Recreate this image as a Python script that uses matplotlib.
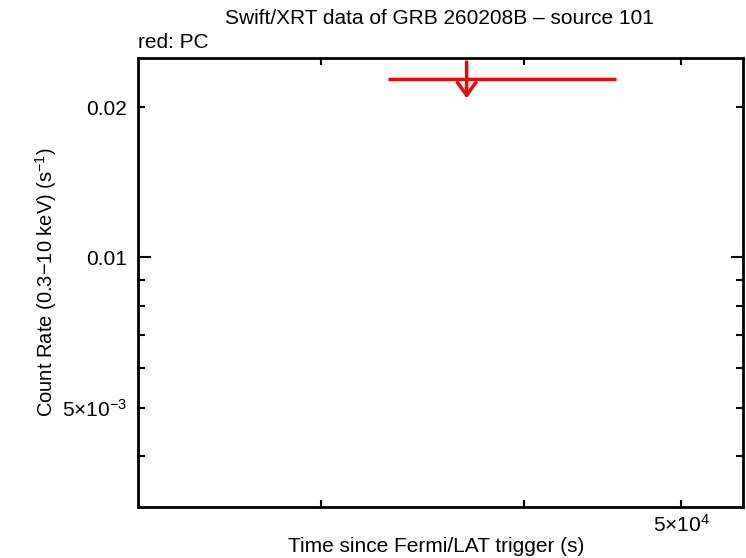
import matplotlib.pyplot as plt
from matplotlib.ticker import FixedLocator, FixedFormatter

plt.rcParams['font.family'] = ['Liberation Sans', 'DejaVu Sans']
plt.rcParams['mathtext.fontset'] = 'custom'
plt.rcParams['mathtext.rm'] = 'Liberation Sans'
plt.rcParams['mathtext.it'] = 'Liberation Sans'
plt.rcParams['mathtext.bf'] = 'Liberation Sans'

# PC mode upper limit (time since trigger in s, count rate in 1/s)
t_mid = [36890.0]
t_lo = [32990.0]
t_hi = [45620.0]
rate_ul = [0.02276]

fig = plt.figure(figsize=(7.46, 5.58), dpi=100)
ax = fig.add_axes([0.185, 0.0914, 0.811, 0.8046])

ax.set_xscale('log')
ax.set_yscale('log')
ax.set_xlim(23150, 54590)
ax.set_ylim(0.003163, 0.02508)

# horizontal error bar plus downward arrow for the upper limit
ax.hlines(rate_ul, t_lo, t_hi, color='red', lw=2.5)
for t, r in zip(t_mid, rate_ul):
    ax.annotate('', xy=(t, r * 0.915), xytext=(t, r * 1.082),
                arrowprops=dict(arrowstyle='->,head_length=0.42,head_width=0.3',
                                color='red', lw=2.5,
                                mutation_scale=22, shrinkA=0, shrinkB=0))

# y ticks
ax.yaxis.set_major_locator(FixedLocator([0.01]))
ax.yaxis.set_major_formatter(FixedFormatter(['0.01']))
ax.yaxis.set_minor_locator(FixedLocator([0.004, 0.005, 0.006, 0.007, 0.008, 0.009, 0.02]))
ax.yaxis.set_minor_formatter(FixedFormatter(['', r'5$\times$10$^{\mathrm{-3}}$', '', '', '', '', '0.02']))

# x ticks
ax.xaxis.set_major_locator(FixedLocator([]))
ax.xaxis.set_minor_locator(FixedLocator([30000, 40000, 50000]))
ax.xaxis.set_minor_formatter(FixedFormatter(['', '', r'5$\times$10$^{\mathrm{4}}$']))

ax.tick_params(which='both', direction='in', top=True, right=True,
               labelsize=15, width=1.5)
ax.tick_params(axis='y', which='both', pad=8)
ax.tick_params(axis='x', which='both', pad=5)
ax.tick_params(which='major', length=9)
ax.tick_params(which='minor', length=5)
for s in ax.spines.values():
    s.set_linewidth(2)

ax.set_xlabel('Time since Fermi/LAT trigger (s)', fontsize=15)
ax.set_ylabel(r'Count Rate (0.3$-$10 keV) (s$^{\mathrm{-1}}$)', fontsize=14.5)
ax.xaxis.set_label_coords(0.4926, -0.087)
ax.yaxis.set_label_coords(-0.152, 0.501)
ax.xaxis.label.set_va('center')
ax.yaxis.label.set_va('center')
fig.text(0.589, 0.967, 'Swift/XRT data of GRB 260208B \u2013 source 101',
         ha='center', va='center', fontsize=15)
fig.text(0.185, 0.924, 'red: PC', ha='left', va='center', fontsize=15)

fig.savefig('out.png', dpi=100)
